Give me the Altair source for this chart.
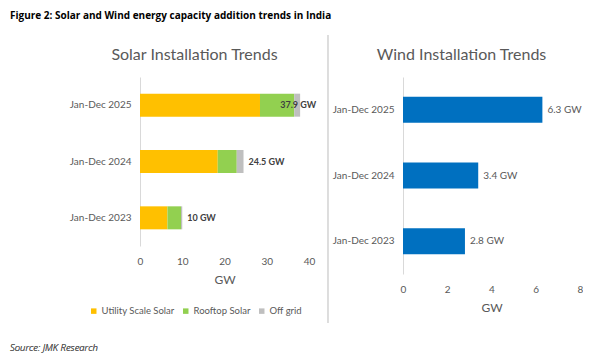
import altair as alt
import pandas as pd

periods = ["Jan-Dec 2025", "Jan-Dec 2024", "Jan-Dec 2023"]
utility = [28.4, 18.4, 6.5]
rooftop = [8.1, 4.5, 3.2]
offgrid = [1.4, 1.6, 0.3]
solar_labels = ["37.9 GW", "24.5 GW", "10 GW"]
wind = [6.3, 3.4, 2.8]
wind_labels = ["6.3 GW", "3.4 GW", "2.8 GW"]
segments = ["Utility Scale Solar", "Rooftop Solar", "Off grid"]
seg_colors = ["#FFC000", "#92D050", "#BFBFBF"]

rows = []
for i, p in enumerate(periods):
    for j, (s, v) in enumerate(zip(segments, [utility[i], rooftop[i], offgrid[i]])):
        rows.append({"period": p, "segment": s, "value": v, "order": j})
solar_df = pd.DataFrame(rows)
solar_tot = pd.DataFrame({
    "period": periods,
    "total": [round(u + r + o, 1) for u, r, o in zip(utility, rooftop, offgrid)],
    "label": solar_labels,
})
wind_df = pd.DataFrame({"period": periods, "value": wind, "label": wind_labels})

FONT = "Lato"
GRAY = "#595959"

y_axis = alt.Axis(title=None, ticks=False, domainColor="#D9D9D9", labelFontSize=10,
                  labelColor=GRAY, labelPadding=9, labelFont=FONT)

def x_axis(vals):
    return alt.Axis(values=vals, grid=False, ticks=False, domain=False, labelFontSize=10,
                    labelColor=GRAY, labelPadding=10, labelFont=FONT, labelFlush=False,
                    title="GW", titleFontSize=12, titleFontWeight="normal", titleColor=GRAY,
                    titleFont=FONT, titlePadding=8)

sb = alt.Chart(solar_df).mark_bar(size=23).encode(
    x=alt.X("value:Q", stack="zero", scale=alt.Scale(domain=[0, 40], nice=False),
            axis=x_axis([0, 10, 20, 30, 40])),
    y=alt.Y("period:N", sort=periods, axis=y_axis),
    color=alt.Color("segment:N", scale=alt.Scale(domain=segments, range=seg_colors),
                    legend=alt.Legend(title=None, orient="none", legendX=-51, legendY=229,
                                      direction="horizontal",
                                      symbolType="square", symbolSize=30, labelFontSize=9.5,
                                      labelColor=GRAY, labelFont=FONT, columnPadding=6,
                                      labelOffset=3, symbolStrokeWidth=0)),
    order=alt.Order("order:Q"),
)
st = alt.Chart(solar_tot).transform_calculate(
    lx="min(datum.total, 32)"
).mark_text(align="left", dx=5, fontSize=9, fontWeight="bold", color="#404040",
            font=FONT).encode(
    x="lx:Q",
    y=alt.Y("period:N", sort=periods),
    text="label:N",
)
src = alt.Chart(solar_tot).mark_text(align="left", baseline="middle", fontSize=9.5,
                                     fontStyle="italic", fontWeight=300,
                                     color="#555555", font="Open Sans").encode(
    x=alt.value(-130), y=alt.value(271), text=alt.value("Source: JMK Research"),
)
solar = alt.layer(sb, st, src).properties(
    width=169, height=169,
    title=alt.TitleParams("Solar Installation Trends", fontSize=16, fontWeight="normal",
                          color=GRAY, font=FONT, dx=-30, offset=14),
)

sep = alt.Chart(wind_df).mark_rule(color="#D9D9D9", strokeWidth=1).encode(
    x=alt.value(8), y=alt.value(-42), y2=alt.value(246),
).properties(width=9, height=197)

wb = alt.Chart(wind_df).mark_bar(size=26, color="#0070C0").encode(
    x=alt.X("value:Q", scale=alt.Scale(domain=[0, 8], nice=False),
            axis=x_axis([0, 2, 4, 6, 8])),
    y=alt.Y("period:N", sort=periods, axis=y_axis),
)
wt = alt.Chart(wind_df).mark_text(align="left", dx=5, fontSize=10, color=GRAY,
                                  font=FONT).encode(
    x="value:Q", y=alt.Y("period:N", sort=periods), text="label:N",
)
windc = alt.layer(wb, wt).properties(
    width=177, height=197,
    title=alt.TitleParams("Wind Installation Trends", fontSize=16, fontWeight="normal",
                          color=GRAY, font=FONT, dx=-30, offset=14),
)

chart = alt.hconcat(solar, sep, windc, spacing=3).properties(
    title=alt.TitleParams("Figure 2:  Solar and Wind energy capacity addition trends in India",
                          anchor="start", fontSize=10, fontWeight="bold", color="#000000",
                          font="Open Sans", offset=14),
    padding={"left": 2, "top": 2, "right": 0, "bottom": 0},
).configure_view(stroke=None)

chart.save("out.html", embed_options={"renderer": "svg", "actions": False})
